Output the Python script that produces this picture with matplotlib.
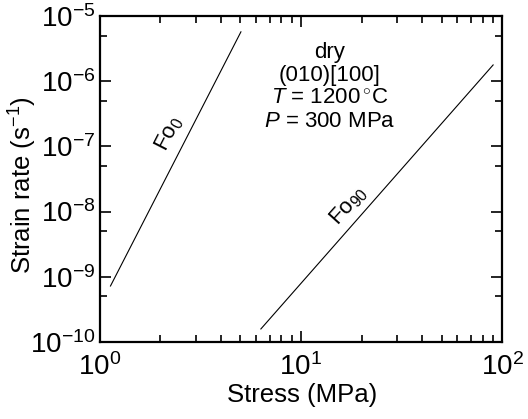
import matplotlib
matplotlib.use('agg')
import matplotlib.pyplot as plt
from matplotlib.ticker import LogLocator, NullFormatter

plt.rcParams['font.family'] = ['Liberation Sans', 'DejaVu Sans']
plt.rcParams['mathtext.fontset'] = 'custom'
plt.rcParams['mathtext.rm'] = 'Liberation Sans'
plt.rcParams['mathtext.it'] = 'Liberation Sans:italic'

# flow laws: end points of each line
fo0_stress = [1.13, 5.03]
fo0_rate = [7.2e-10, 5.7e-6]
fo90_stress = [6.32, 90.2]
fo90_rate = [1.58e-10, 1.77e-6]

conditions = ['dry', '(010)[100]', r'$\mathit{T}$ = 1200$\,^{\circ}$C', r'$\mathit{P}$ = 300 MPa']

fig = plt.figure(figsize=(5.28, 4.19), dpi=100)
ax = fig.add_axes([0.189, 0.184, 0.762, 0.778])

ax.plot(fo0_stress, fo0_rate, color='black', lw=0.8)
ax.plot(fo90_stress, fo90_rate, color='black', lw=0.8)

ax.set_xscale('log')
ax.set_yscale('log')
ax.set_xlim(1, 100)
ax.set_ylim(1e-10, 1e-5)

ax.yaxis.set_major_locator(LogLocator(base=10, numticks=10))
ax.yaxis.set_minor_locator(LogLocator(base=10, subs=[5.0], numticks=10))
ax.yaxis.set_minor_formatter(NullFormatter())
ax.xaxis.set_minor_locator(LogLocator(base=10, subs=range(2, 10), numticks=10))
ax.xaxis.set_minor_formatter(NullFormatter())

ax.tick_params(which='both', direction='in', top=True, right=True, width=1.2)
ax.tick_params(which='major', length=8, labelsize=20)
ax.tick_params(axis='y', which='major', pad=3)
ax.tick_params(axis='x', which='major', pad=8)
ax.tick_params(which='minor', length=5)
for sp in ax.spines.values():
    sp.set_linewidth(1.6)

ax.set_xlabel('Stress (MPa)', fontsize=18.5)
ax.set_ylabel('Strain rate (s$^{-1}$)', fontsize=18.5)
ax.xaxis.set_label_coords(0.503, -0.162)
ax.xaxis.label.set_va('center')
ax.yaxis.set_label_coords(-0.19, 0.48)
ax.yaxis.label.set_va('center')

ax.text(2.2, 1.55e-7, r'Fo$_0$', rotation=63, fontsize=16,
        ha='center', va='center')
ax.text(17.3, 1.23e-8, r'Fo$_{90}$', rotation=48, fontsize=16,
        ha='center', va='center')

ax.text(0.572, 0.92, '\n'.join(conditions), transform=ax.transAxes,
        fontsize=16, ha='center', va='top', linespacing=1.12)

fig.savefig('out.png')
